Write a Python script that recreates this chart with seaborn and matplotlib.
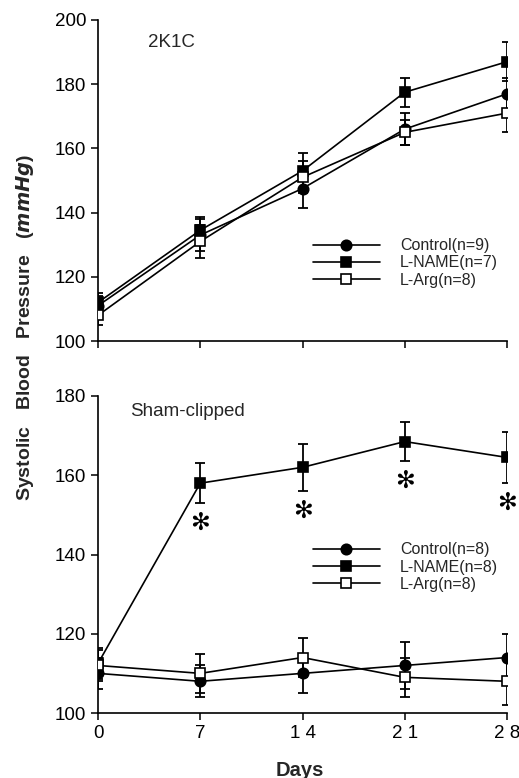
import matplotlib
matplotlib.use("Agg")
import matplotlib.pyplot as plt
import seaborn as sns
import numpy as np

sns.set_theme(style="ticks")
plt.rcParams['font.family'] = ['Liberation Sans', 'DejaVu Sans']

days = [0, 7, 14, 21, 28]
day_labels = ["0", "7", "1 4", "2 1", "2 8"]

# 2K1C panel
k_control = [111, 133, 147.5, 166, 177]
k_control_err = [3, 5, 6, 5, 5]
k_lname = [112, 134.5, 153, 177.5, 187]
k_lname_err = [3, 4, 5.5, 4.5, 6]
k_larg = [108, 131, 151, 165, 171]
k_larg_err = [3, 5, 5, 4, 6]
k_labels = ["Control(n=9)", "L-NAME(n=7)", "L-Arg(n=8)"]

# Sham-clipped panel
s_control = [110, 108, 110, 112, 114]
s_control_err = [4, 4, 5, 6, 6]
s_lname = [112.5, 158, 162, 168.5, 164.5]
s_lname_err = [4, 5, 6, 5, 6.5]
s_larg = [112, 110, 114, 109, 108]
s_larg_err = [4, 5, 5, 5, 6]
s_labels = ["Control(n=8)", "L-NAME(n=8)", "L-Arg(n=8)"]
sig_days = [7, 14, 21, 28]

fig = plt.figure(figsize=(5.19, 7.78), dpi=100)
ax1 = fig.add_axes([98/519, 1-341/778, 409/519, 321/778])
ax2 = fig.add_axes([98/519, 1-713/778, 409/519, 317/778])

styles = [dict(marker='o', markerfacecolor='black'),
          dict(marker='s', markerfacecolor='black'),
          dict(marker='s', markerfacecolor='white')]

def draw(ax, series, errs, labels):
    for vals, err, lab, st in zip(series, errs, labels, styles):
        ax.errorbar(days, vals, yerr=err, fmt='none', ecolor='black',
                    elinewidth=1.3, capsize=3.5, capthick=1.3, zorder=2)
        sns.lineplot(x=days, y=vals, ax=ax, color='black', linewidth=1.2,
                     markersize=7.5, markeredgecolor='black', markeredgewidth=1.2,
                     label=lab, zorder=3, **st)

draw(ax1, [k_control, k_lname, k_larg], [k_control_err, k_lname_err, k_larg_err], k_labels)
draw(ax2, [s_control, s_lname, s_larg], [s_control_err, s_lname_err, s_larg_err], s_labels)

for d in sig_days:
    i = days.index(d)
    ax2.text(d, s_lname[i] - s_lname_err[i] - 5, "\u273B", ha='center', va='center',
             fontsize=17, color='black', family=['DejaVu Sans'])

for ax in (ax1, ax2):
    ax.set_xlim(0, 28)
    ax.set_xticks(days)
    for s in ['top', 'right']:
        ax.spines[s].set_visible(False)
    for s in ['left', 'bottom']:
        ax.spines[s].set_color('black')
        ax.spines[s].set_linewidth(1.2)
    ax.tick_params(axis='both', direction='out', length=5, width=1.1,
                   colors='black', labelsize=13.5)
    ax.set_xlabel("")
    ax.set_ylabel("")
    ax.set_facecolor('white')

ax1.set_ylim(100, 200)
ax1.set_yticks([100, 120, 140, 160, 180, 200])
ax1.set_xticklabels([])
ax2.set_ylim(100, 180)
ax2.set_yticks([100, 120, 140, 160, 180])
ax2.set_xticklabels(day_labels)

ax1.text(3.4, 193, "2K1C", fontsize=13.5, va='center', ha='left')
ax2.text(2.2, 176, "Sham-clipped", fontsize=13.5, va='center', ha='left')

for ax, ya in ((ax1, 0.243), (ax2, 0.46)):
    leg = ax.legend(loc='center left', bbox_to_anchor=(0.525, ya), frameon=False,
                    fontsize=11.5, handlelength=4.2, handletextpad=1.25,
                    labelspacing=0.15, borderpad=0, borderaxespad=0)

fig.text(300/519, 1-770/778, "Days", ha='center', va='center',
         fontsize=14.5, fontweight='bold')
fig.text(25/519, 1-327/778, r"Systolic   Blood   Pressure   ($\mathbfit{mmHg}$)",
         rotation=90, ha='center', va='center', fontsize=14, fontweight='bold')

fig.savefig("out.png", dpi=100, facecolor='white')
